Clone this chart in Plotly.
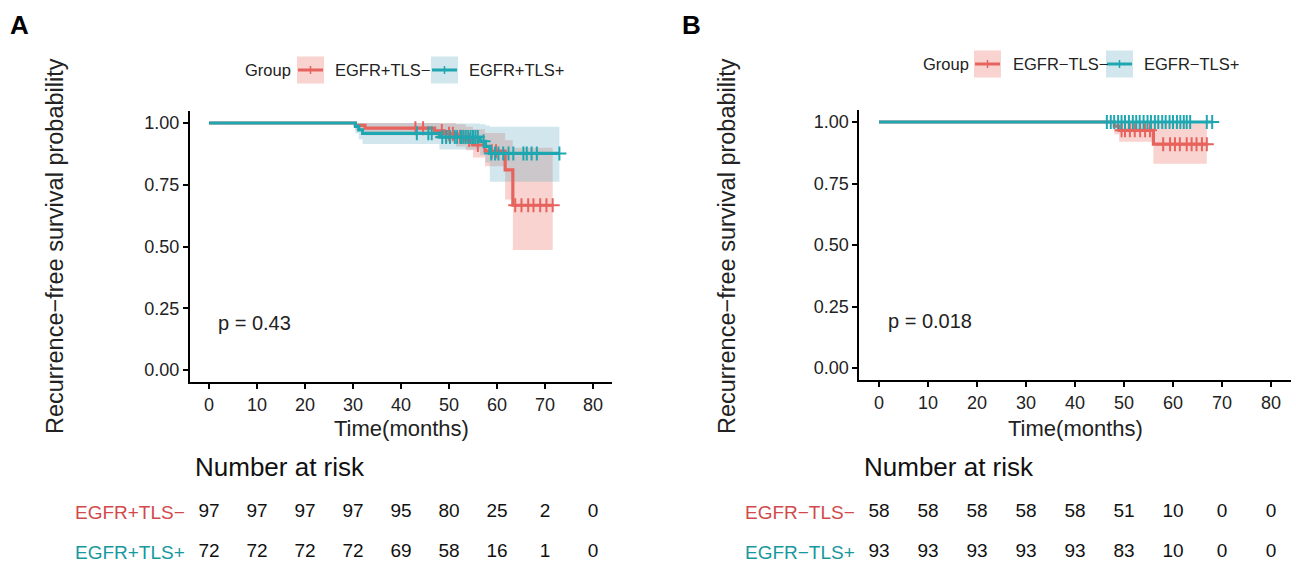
import numpy as np
import plotly.graph_objects as go

W, H = 1296, 566
FONT = "Liberation Sans, Arial, sans-serif"
RED, TEAL = "#E7635E", "#1EA7B1"
RED_BAND, TEAL_BAND = "rgba(235,110,95,0.30)", "rgba(90,170,190,0.28)"
RED_TXT, TEAL_TXT = "#D04A4C", "#17989C"

# ---------------- data ----------------
time_ticks = [0, 10, 20, 30, 40, 50, 60, 70, 80]

# Panel A
A_neg_name = "EGFR+TLS−"
A_neg_time = [0, 30.5, 32.5, 47.0, 49.0, 51.5, 53.5, 55.0, 57.5, 61.7, 63.3]
A_neg_surv = [1.0, 0.990, 0.979, 0.968, 0.956, 0.944, 0.931, 0.911, 0.886, 0.810, 0.667]
A_neg_lower = [1.0, 0.970, 0.950, 0.935, 0.920, 0.905, 0.890, 0.860, 0.825, 0.690, 0.486]
A_neg_upper = [1.0, 1.0, 1.0, 1.0, 1.0, 0.995, 0.985, 0.975, 0.960, 0.930, 0.900]
A_neg_end = 71.6
A_neg_censor = [43.0, 44.6, 48.5, 50.0, 50.8, 52.3, 53.0, 54.2, 56.0, 58.9, 59.8,
                63.8, 65.1, 66.5, 67.6, 69.0, 70.3, 71.6]

A_pos_name = "EGFR+TLS+"
A_pos_time = [0, 30.5, 31.2, 32.0, 48.0, 56.5, 57.6, 58.5]
A_pos_surv = [1.0, 0.986, 0.972, 0.958, 0.943, 0.926, 0.905, 0.877]
A_pos_lower = [1.0, 0.958, 0.934, 0.915, 0.893, 0.870, 0.840, 0.762]
A_pos_upper = [1.0, 1.0, 1.0, 1.0, 0.998, 0.995, 0.990, 0.985]
A_pos_end = 73.0
A_pos_censor = [43.3, 45.7, 46.4, 48.6, 49.4, 50.2, 51.2, 51.7, 52.5, 53.0, 53.5, 54.0,
                54.5, 55.0, 55.5, 56.0, 57.2, 58.8, 59.6, 60.3, 61.3, 62.4, 63.4, 65.5,
                66.2, 67.2, 68.3, 73.0]

A_risk_neg = [97, 97, 97, 97, 95, 80, 25, 2, 0]
A_risk_pos = [72, 72, 72, 72, 69, 58, 16, 1, 0]
A_pval = "p = 0.43"

# Panel B
B_neg_name = "EGFR−TLS−"
B_neg_time = [0, 48.0, 49.0, 56.0]
B_neg_surv = [1.0, 0.983, 0.966, 0.910]
B_neg_lower = [1.0, 0.950, 0.920, 0.830]
B_neg_upper = [1.0, 1.0, 1.0, 0.995]
B_neg_end = 66.9
B_neg_censor = [49.5, 50.2, 51.2, 52.2, 53.3, 54.3, 55.3, 58.0, 59.4, 60.4, 61.4,
                62.8, 63.8, 64.8, 65.9, 66.9]

B_pos_name = "EGFR−TLS+"
B_pos_time = [0]
B_pos_surv = [1.0]
B_pos_lower = [1.0]
B_pos_upper = [1.0]
B_pos_end = 68.0
B_pos_censor = [46.5, 47.3, 48.0, 48.8, 49.5, 50.2, 51.0, 51.8, 52.5, 53.2, 54.0, 54.8,
                55.5, 56.3, 57.0, 57.8, 58.5, 59.3, 60.0, 60.8, 61.5, 62.2, 62.8, 63.5,
                66.9, 68.0]

B_risk_neg = [58, 58, 58, 58, 58, 51, 10, 0, 0]
B_risk_pos = [93, 93, 93, 93, 93, 83, 10, 0, 0]
B_pval = "p = 0.018"


def px_y(p):
    return 1 - p / H


def step_at(times, vals, t):
    idx = np.searchsorted(np.asarray(times), np.asarray(t), side="right") - 1
    return [vals[i] for i in idx]


fig = go.Figure()


def add_group(xa, ya, times, lower, upper, end, band):
    xs = list(times) + [end]
    fig.add_trace(go.Scatter(x=xs, y=list(upper) + [upper[-1]], mode="lines",
                             line=dict(width=0, shape="hv"), xaxis=xa, yaxis=ya,
                             showlegend=False, hoverinfo="skip"))
    fig.add_trace(go.Scatter(x=xs, y=list(lower) + [lower[-1]], mode="lines",
                             line=dict(width=0, shape="hv"), fill="tonexty",
                             fillcolor=band, xaxis=xa, yaxis=ya,
                             showlegend=False, hoverinfo="skip"))


def add_line(xa, ya, name, times, surv, end, censor, color):
    xs = list(times) + [end]
    fig.add_trace(go.Scatter(x=xs, y=list(surv) + [surv[-1]], mode="lines",
                             line=dict(color=color, width=3.2, shape="hv"),
                             xaxis=xa, yaxis=ya, name=name, showlegend=False))
    fig.add_trace(go.Scatter(x=censor, y=step_at(times, surv, censor), mode="markers",
                             marker=dict(symbol="cross-thin-open", size=10, color=color,
                                         line=dict(color=color, width=2)),
                             xaxis=xa, yaxis=ya, showlegend=False, hoverinfo="skip"))


# Panel A
add_group("x", "y", A_neg_time, A_neg_lower, A_neg_upper, A_neg_end, RED_BAND)
add_group("x", "y", A_pos_time, A_pos_lower, A_pos_upper, A_pos_end, TEAL_BAND)
add_line("x", "y", A_neg_name, A_neg_time, A_neg_surv, A_neg_end, A_neg_censor, RED)
add_line("x", "y", A_pos_name, A_pos_time, A_pos_surv, A_pos_end, A_pos_censor, TEAL)

# Panel B
add_group("x2", "y2", B_neg_time, B_neg_lower, B_neg_upper, B_neg_end, RED_BAND)
add_group("x2", "y2", B_pos_time, B_pos_lower, B_pos_upper, B_pos_end, TEAL_BAND)
add_line("x2", "y2", B_neg_name, B_neg_time, B_neg_surv, B_neg_end, B_neg_censor, RED)
add_line("x2", "y2", B_pos_name, B_pos_time, B_pos_surv, B_pos_end, B_pos_censor, TEAL)

# Risk tables
for xa, ya, rneg, rpos in [("x3", "y3", A_risk_neg, A_risk_pos),
                           ("x4", "y4", B_risk_neg, B_risk_pos)]:
    for row, vals in [(2, rneg), (1, rpos)]:
        fig.add_trace(go.Scatter(x=time_ticks, y=[row] * len(time_ticks), mode="text",
                                 text=[str(v) for v in vals],
                                 textfont=dict(family=FONT, size=19, color="#111"),
                                 xaxis=xa, yaxis=ya, showlegend=False, hoverinfo="skip",
                                 cliponaxis=False))

axis_common = dict(showline=True, linecolor="black", linewidth=2, ticks="outside",
                   ticklen=5, tickwidth=2, tickcolor="black", showgrid=False,
                   zeroline=False, tickfont=dict(family=FONT, size=18, color="#222"))

A_xdom = [189.8 / W, 612.2 / W]
B_xdom = [859.4 / W, 1290.6 / W]
yvals = [0, 0.25, 0.5, 0.75, 1.0]
ytext = ["0.00", "0.25", "0.50", "0.75", "1.00"]

fig.update_layout(
    width=W, height=H, margin=dict(l=0, r=0, t=0, b=0),
    paper_bgcolor="white", plot_bgcolor="white", showlegend=False,
    font=dict(family=FONT, color="#222"),
    xaxis=dict(domain=A_xdom, range=[-4, 84], tickvals=time_ticks, anchor="y", **axis_common),
    yaxis=dict(domain=[px_y(382.35), px_y(110.65)], range=[-0.05, 1.05], tickvals=yvals,
               ticktext=ytext, anchor="x", **axis_common),
    xaxis2=dict(domain=B_xdom, range=[-4, 84], tickvals=time_ticks, anchor="y2", **axis_common),
    yaxis2=dict(domain=[px_y(380.3), px_y(109.7)], range=[-0.05, 1.05], tickvals=yvals,
                ticktext=ytext, anchor="x2", **axis_common),
    xaxis3=dict(domain=A_xdom, range=[-4, 84], visible=False, anchor="y3"),
    yaxis3=dict(domain=[0, px_y(492)], range=[0.65, 2.5], visible=False, anchor="x3"),
    xaxis4=dict(domain=B_xdom, range=[-4, 84], visible=False, anchor="y4"),
    yaxis4=dict(domain=[0, px_y(492)], range=[0.65, 2.5], visible=False, anchor="x4"),
)

ann = []
shapes = []


def txt(x, y, text, size, xanchor="center", color="#222", bold=False, angle=0,
        xref="paper", yref="paper"):
    ann.append(dict(x=x, y=y, xref=xref, yref=yref, text=f"<b>{text}</b>" if bold else text,
                    showarrow=False, xanchor=xanchor, yanchor="middle", textangle=angle,
                    font=dict(family=FONT, size=size, color=color)))


# Panel letters
txt(19 / W, px_y(25), "A", 26, bold=True, color="black")
txt(691 / W, px_y(25), "B", 26, bold=True, color="black")

# Axis titles
for cx, xc in [(55, 401), (727, 1075)]:
    txt(cx / W, px_y(246), "Recurrence−free survival probability", 23.5, angle=-90)
    txt(xc / W, px_y(428), "Time(months)", 22)

# p-values
txt(1.5, 0.19, A_pval, 20, xanchor="left", xref="x", yref="y")
txt(1.5, 0.19, B_pval, 20, xanchor="left", xref="x2", yref="y2")

# Risk tables: titles and row labels
for lx, labx, yref, n1, n2 in [(193, 187, "y3", A_neg_name, A_pos_name),
                               (862, 857, "y4", B_neg_name, B_pos_name)]:
    txt(lx / W, px_y(467), "Number at risk", 26, xanchor="left", color="#111")
    txt(labx / W, 2, n1, 19, xanchor="right", color=RED_TXT, yref=yref)
    txt(labx / W, 1, n2, 19, xanchor="right", color=TEAL_TXT, yref=yref)

# Manual legends (Group key)
for gx, cy, items in [(243, 70, [(297, 333, A_neg_name, RED, RED_BAND),
                                 (431, 467, A_pos_name, TEAL, TEAL_BAND)]),
                      (921, 64, [(974, 1011, B_neg_name, RED, RED_BAND),
                                 (1106, 1142, B_pos_name, TEAL, TEAL_BAND)])]:
    txt(gx / W, px_y(cy), "Group", 16.5, xanchor="left")
    for bx, tx, name, col, band in items:
        shapes.append(dict(type="rect", xref="paper", yref="paper",
                           x0=bx / W, x1=(bx + 27) / W, y0=px_y(cy + 13.5), y1=px_y(cy - 13.5),
                           fillcolor=band, line=dict(width=0)))
        shapes.append(dict(type="line", xref="paper", yref="paper",
                           x0=(bx + 1) / W, x1=(bx + 26) / W, y0=px_y(cy), y1=px_y(cy),
                           line=dict(color=col, width=3)))
        shapes.append(dict(type="line", xref="paper", yref="paper",
                           x0=(bx + 13.5) / W, x1=(bx + 13.5) / W, y0=px_y(cy - 4),
                           y1=px_y(cy + 4), line=dict(color=col, width=1.5)))
        txt(tx / W, px_y(cy), name, 16.5, xanchor="left")

fig.update_layout(annotations=ann, shapes=shapes)
fig.write_html("out.html", config={"displayModeBar": False},
               post_script="document.body.style.margin='0px';")
